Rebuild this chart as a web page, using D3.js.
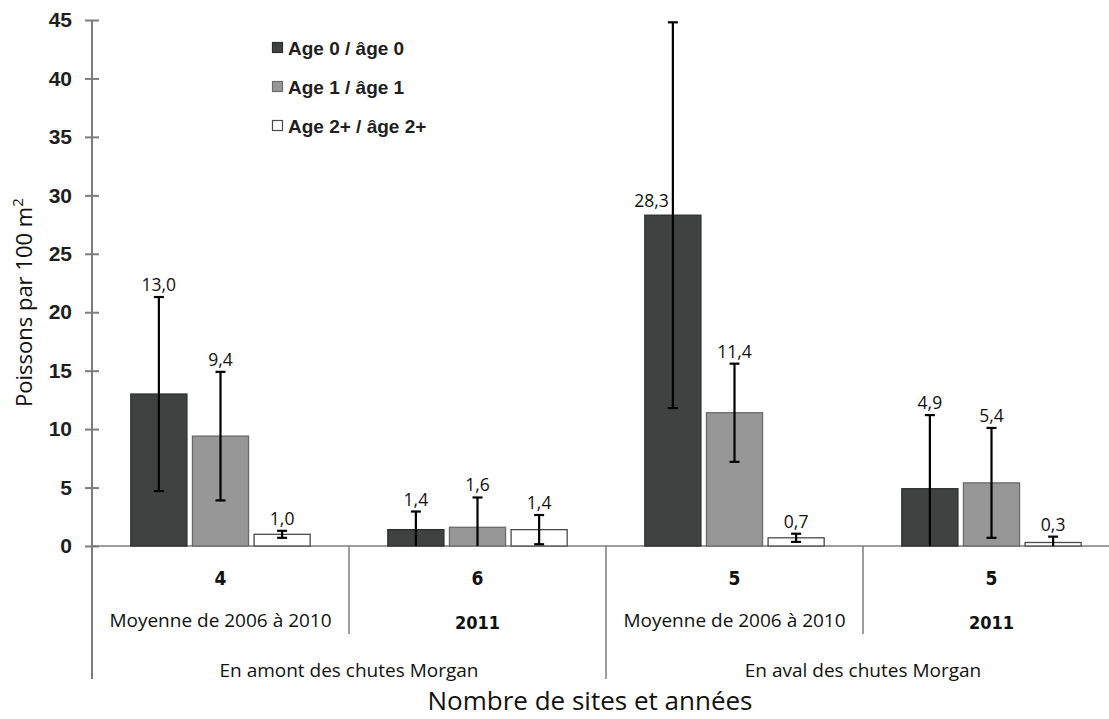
<!DOCTYPE html>
<html>
<head>
<meta charset="utf-8">
<script src="https://cdn.jsdelivr.net/npm/d3@7"></script>
<style>
  html, body { margin: 0; padding: 0; background: #fff; }
  svg { display: block; }
</style>
</head>
<body>
<svg id="chart" width="1109" height="719"></svg>
<script>
// Density of fish (per 100 m²) by age class, upstream and downstream of Morgan falls
const categories = ["Moyenne de 2006 à 2010", "2011", "Moyenne de 2006 à 2010", "2011"];
const siteCounts = ["4", "6", "5", "5"];
const regions = ["En amont des chutes Morgan", "En aval des chutes Morgan"];
const seriesNames = ["Age 0 / âge 0", "Age 1 / âge 1", "Age 2+ / âge 2+"];

const age0 = [13.0, 1.4, 28.3, 4.9];
const age1 = [9.4, 1.6, 11.4, 5.4];
const age2 = [1.0, 1.4, 0.7, 0.3];

// error bar half-widths (±)
const err0 = [8.3, 1.55, 16.5, 6.3];
const err1 = [5.5, 2.55, 4.2, 4.7];
const err2 = [0.3, 1.25, 0.35, 0.5];

const yTicks = [0, 5, 10, 15, 20, 25, 30, 35, 40, 45];

const seriesValues = [age0, age1, age2];
const seriesErrors = [err0, err1, err2];
const fills = ["#404241", "#979797", "#ffffff"];
const strokes = ["#2c2c2c", "#6a6a6a", "#4a4a4a"];

const svg = d3.select("#chart");
const W = 1109;

const plot = { left: 92, right: 1120, top: 20, bottom: 546 };

const idx = categories.map((_, i) => i);
const x0 = d3.scaleBand().domain(idx).range([plot.left, plot.right]).paddingInner(0).paddingOuter(0);
const x1 = d3.scaleBand().domain([0, 1, 2]).range([0, x0.bandwidth()]).paddingInner(0.09).paddingOuter(0.63);
const y = d3.scaleLinear().domain([0, 45]).range([plot.bottom, plot.top]);

const fmt = v => d3.format(".1f")(v).replace(".", ",");

// y axis
const yAxis = d3.axisLeft(y).tickValues(yTicks).tickSizeInner(7).tickSizeOuter(0).tickPadding(13);
const gy = svg.append("g").attr("transform", `translate(${plot.left},0)`).call(yAxis);
gy.select(".domain").remove();
gy.selectAll(".tick line").attr("x1", 7).attr("stroke", "#7c7c7c").attr("stroke-width", 2);
gy.selectAll(".tick text")
  .attr("font-family", "'Liberation Sans', Arial, sans-serif")
  .attr("font-weight", "bold")
  .attr("font-size", 21)
  .attr("fill", "#1e1e1e");

const axisColor = "#7c7c7c";
// vertical axis line, extended down through the category table
svg.append("line")
  .attr("x1", plot.left).attr("x2", plot.left)
  .attr("y1", plot.top).attr("y2", 679)
  .attr("stroke", axisColor).attr("stroke-width", 2);

// horizontal baseline
svg.append("line")
  .attr("x1", plot.left).attr("x2", W)
  .attr("y1", y(0)).attr("y2", y(0))
  .attr("stroke", axisColor).attr("stroke-width", 1.5);

// dividers between categories (long between regions, short within a region)
idx.slice(1).forEach(i => {
  const xx = x0(i);
  const long = (i % 2 === 0);
  svg.append("line")
    .attr("x1", xx).attr("x2", xx)
    .attr("y1", y(0)).attr("y2", long ? 679 : 634)
    .attr("stroke", axisColor).attr("stroke-width", 1.5);
});

// bars
const bars = svg.append("g");
seriesValues.forEach((vals, s) => {
  bars.selectAll(null)
    .data(idx)
    .join("rect")
    .attr("x", i => x0(i) + x1(s))
    .attr("y", i => y(vals[i]))
    .attr("width", x1.bandwidth())
    .attr("height", i => y(0) - y(vals[i]))
    .attr("fill", fills[s])
    .attr("stroke", strokes[s])
    .attr("stroke-width", 1.3);
});

// error bars
const errG = svg.append("g").attr("stroke", "#000").attr("stroke-width", 2.2);
const capHalf = 5;
seriesValues.forEach((vals, s) => {
  idx.forEach(i => {
    const cx = x0(i) + x1(s) + x1.bandwidth() / 2;
    const hi = vals[i] + seriesErrors[s][i];
    const loRaw = vals[i] - seriesErrors[s][i];
    const lo = Math.max(0, loRaw);
    errG.append("line").attr("x1", cx).attr("x2", cx).attr("y1", y(hi)).attr("y2", y(lo));
    errG.append("line").attr("x1", cx - capHalf).attr("x2", cx + capHalf).attr("y1", y(hi)).attr("y2", y(hi));
    if (loRaw >= 0) {
      errG.append("line").attr("x1", cx - capHalf).attr("x2", cx + capHalf).attr("y1", y(lo)).attr("y2", y(lo));
    }
  });
});

// value labels: above the error bar, or beside the bar top when there is no room above
const labG = svg.append("g")
  .attr("font-family", "'Open Sans', 'Noto Sans', sans-serif")
  .attr("font-size", 17.5)
  .attr("fill", "#111");
seriesValues.forEach((vals, s) => {
  idx.forEach(i => {
    const cx = x0(i) + x1(s) + x1.bandwidth() / 2;
    const hi = vals[i] + seriesErrors[s][i];
    const t = labG.append("text").text(fmt(vals[i]));
    if (y(hi) - 20 < plot.top) {
      t.attr("x", cx - 4).attr("y", y(vals[i]) - 8).attr("text-anchor", "end");
    } else {
      t.attr("x", cx).attr("y", y(hi) - 6).attr("text-anchor", "middle");
    }
  });
});

// category table under the axis
const narrow = "'Liberation Sans Narrow', 'DejaVu Sans Condensed', 'Liberation Sans', sans-serif";
const catG = svg.append("g").attr("text-anchor", "middle").attr("fill", "#111");
idx.forEach(i => {
  const cx = x0(i) + x0.bandwidth() / 2;
  catG.append("text")
    .attr("x", cx).attr("y", 585)
    .attr("font-family", narrow)
    .attr("font-weight", "bold")
    .attr("font-size", 19)
    .text(siteCounts[i]);
  const isYear = /^\d{4}$/.test(categories[i]);
  catG.append("text")
    .attr("x", cx).attr("y", isYear ? 629 : 627)
    .attr("font-family", isYear ? narrow : "'Open Sans', 'Noto Sans', sans-serif")
    .attr("font-weight", isYear ? "bold" : "normal")
    .attr("font-size", isYear ? 18 : 19)
    .text(categories[i]);
});
regions.forEach((r, k) => {
  const a = x0(k * 2), b = x0(k * 2 + 1) + x0.bandwidth();
  catG.append("text")
    .attr("x", (a + b) / 2).attr("y", 677)
    .attr("font-family", "'Open Sans', 'Noto Sans', sans-serif")
    .attr("font-size", 19)
    .text(r);
});

// axis titles
svg.append("text")
  .attr("x", 590).attr("y", 710)
  .attr("text-anchor", "middle")
  .attr("font-family", "'Open Sans', 'Noto Sans', sans-serif")
  .attr("font-size", 26)
  .attr("fill", "#111")
  .text("Nombre de sites et années");

const yt = svg.append("text")
  .attr("transform", "translate(32,407) rotate(-90)")
  .attr("text-anchor", "start")
  .attr("font-family", "'Open Sans', 'Noto Sans', sans-serif")
  .attr("font-size", 22)
  .attr("fill", "#111");
yt.append("tspan").text("Poissons par 100 m");
yt.append("tspan").attr("dy", -9).attr("font-size", 15).text("2");

// legend
const leg = svg.append("g").attr("transform", "translate(272,48)");
seriesNames.forEach((name, s) => {
  const g = leg.append("g").attr("transform", `translate(0,${s * 39})`);
  g.append("rect").attr("x", 0.5).attr("y", -5.5).attr("width", 10).attr("height", 10)
    .attr("fill", fills[s]).attr("stroke", strokes[s]).attr("stroke-width", 1.2);
  g.append("text").attr("x", 16).attr("y", 0).attr("dy", "0.36em")
    .attr("font-family", "'Liberation Sans', Arial, sans-serif")
    .attr("font-weight", "bold")
    .attr("font-size", 19)
    .attr("fill", "#1e1e1e")
    .text(name);
});
</script>
</body>
</html>
